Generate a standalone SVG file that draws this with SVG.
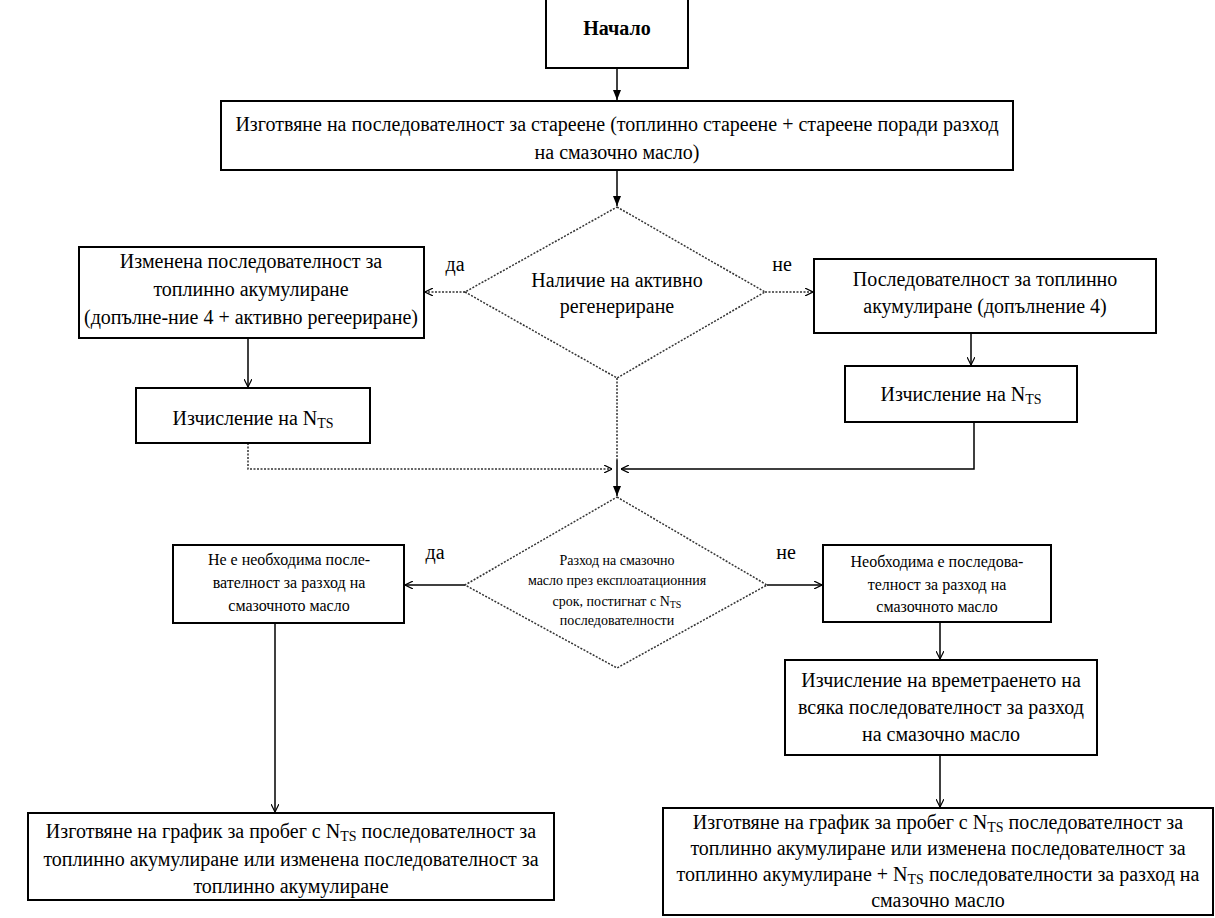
<svg xmlns="http://www.w3.org/2000/svg" width="1215" height="918" viewBox="0 0 1215 918">
<style>
.box{fill:#fff;stroke:#000;stroke-width:2}
.dia{fill:#fff;stroke:#333;stroke-width:1.5;stroke-dasharray:2 1.5}
.t{font-family:"Liberation Serif",serif;font-size:20px;fill:#000;text-anchor:middle}
.s{font-size:14px}
.b{font-weight:bold}
.c{fill:none;stroke:#000;stroke-width:1.5}
.d{fill:none;stroke:#333;stroke-width:1.5;stroke-dasharray:2 1.5}
.sub{font-size:14px}
</style>
<defs>
<marker id="a" viewBox="0 0 10 10" refX="10" refY="5" markerWidth="8" markerHeight="8" markerUnits="userSpaceOnUse" orient="auto"><path d="M0,0 L10,5 L0,10" fill="none" stroke="#000" stroke-width="1.5"/></marker>
<marker id="f" viewBox="0 0 10 10" refX="10" refY="5" markerWidth="10" markerHeight="10" markerUnits="userSpaceOnUse" orient="auto"><path d="M0,1 L10,5 L0,9 Z" fill="#000"/></marker>
</defs>
<rect width="1215" height="918" fill="#fff"/>
<g id="connectors">
<line class="c" x1="617" y1="68" x2="617" y2="100" marker-end="url(#f)"/>
<line class="c" x1="617" y1="170" x2="617" y2="206" marker-end="url(#f)"/>
<line class="d" x1="465" y1="292" x2="425" y2="292" marker-end="url(#a)"/>
<line class="d" x1="765" y1="292" x2="813" y2="292" marker-end="url(#a)"/>
<line class="c" x1="248" y1="338" x2="248" y2="387" marker-end="url(#a)"/>
<line class="c" x1="971" y1="333" x2="971" y2="365" marker-end="url(#a)"/>
<polyline class="d" points="248,443 248,469 612,469" marker-end="url(#a)"/>
<polyline class="c" points="974,422 974,469 621,469" marker-end="url(#a)"/>
<line class="d" x1="617" y1="378" x2="617" y2="460"/>
<line class="c" x1="617" y1="460" x2="617" y2="496" marker-end="url(#f)"/>
<line class="c" x1="465" y1="585" x2="405" y2="585" marker-end="url(#a)"/>
<line class="c" x1="767" y1="585" x2="822" y2="585" marker-end="url(#a)"/>
<line class="c" x1="940" y1="622" x2="940" y2="659" marker-end="url(#a)"/>
<line class="c" x1="940" y1="755" x2="940" y2="807" marker-end="url(#a)"/>
<line class="c" x1="275" y1="623" x2="275" y2="812" marker-end="url(#a)"/>
</g>
<g id="start">
<rect class="box" x="546" y="-2" width="142" height="70"/>
<text class="t b" x="617" y="35">Начало</text>
</g>
<g id="prep">
<rect class="box" x="221" y="101" width="792" height="69"/>
<text class="t" x="617" y="131">Изготвяне на последователност за стареене (топлинно стареене + стареене поради разход</text>
<text class="t" x="617" y="159">на смазочно масло)</text>
</g>
<g id="d1">
<polygon class="dia" points="617,207 765,292 617,378 465,292"/>
<text class="t" x="617" y="287">Наличие на активно</text>
<text class="t" x="617" y="313">регенериране</text>
</g>
<text class="t" x="455" y="271">да</text>
<text class="t" x="782" y="271">не</text>
<g id="modseq">
<rect class="box" x="79" y="247" width="345" height="91"/>
<text class="t" x="251" y="268">Изменена последователност за</text>
<text class="t" x="251" y="296">топлинно акумулиране</text>
<text class="t" x="251" y="324">(допълне-ние 4 + активно регеериране)</text>
</g>
<g id="seq">
<rect class="box" x="814" y="259" width="342" height="74"/>
<text class="t" x="985" y="286">Последователност за топлинно</text>
<text class="t" x="985" y="313">акумулиране (допълнение 4)</text>
</g>
<g id="nts1">
<rect class="box" x="136" y="388" width="234" height="55"/>
<text class="t" x="253" y="425">Изчисление на N<tspan class="sub" dy="3">TS</tspan></text>
</g>
<g id="nts2">
<rect class="box" x="845" y="366" width="232" height="56"/>
<text class="t" x="961" y="401">Изчисление на N<tspan class="sub" dy="3">TS</tspan></text>
</g>
<g id="d2">
<polygon class="dia" points="617,497 767,585 617,668 465,585"/>
<text class="t s" x="617" y="565">Разход на смазочно</text>
<text class="t s" x="617" y="585">масло през експлоатационния</text>
<text class="t s" x="617" y="606">срок, постигнат с N<tspan font-size="10" dy="2">TS</tspan></text>
<text class="t s" x="617" y="625">последователности</text>
</g>
<text class="t" x="435" y="559">да</text>
<text class="t" x="786" y="559">не</text>
<g id="noneed">
<rect class="box" x="173" y="545" width="231" height="78"/>
<text class="t s" x="289" y="565" style="font-size:16px">Не е необходима после-</text>
<text class="t s" x="289" y="588" style="font-size:16px">вателност за разход на</text>
<text class="t s" x="289" y="611" style="font-size:16px">смазочното масло</text>
</g>
<g id="need">
<rect class="box" x="823" y="545" width="228" height="77"/>
<text class="t s" x="937" y="567" style="font-size:16px">Необходима е последова-</text>
<text class="t s" x="937" y="590" style="font-size:16px">телност за разход на</text>
<text class="t s" x="937" y="612" style="font-size:16px">смазочното масло</text>
</g>
<g id="duration">
<rect class="box" x="785" y="660" width="312" height="95"/>
<text class="t" x="941" y="687">Изчисление на времетраенето на</text>
<text class="t" x="941" y="714">всяка последователност за разход</text>
<text class="t" x="941" y="741">на смазочно масло</text>
</g>
<g id="schedL">
<rect class="box" x="28" y="813" width="526" height="87"/>
<text class="t" x="291" y="838">Изготвяне на график за пробег с N<tspan class="sub" dy="3">TS</tspan><tspan dy="-3"> последователност за</tspan></text>
<text class="t" x="291" y="866">топлинно акумулиране или изменена последователност за</text>
<text class="t" x="291" y="893">топлинно акумулиране</text>
</g>
<g id="schedR">
<rect class="box" x="663" y="808" width="550" height="107"/>
<text class="t" x="938" y="829">Изготвяне на график за пробег с N<tspan class="sub" dy="3">TS</tspan><tspan dy="-3"> последователност за</tspan></text>
<text class="t" x="938" y="855">топлинно акумулиране или изменена последователност за</text>
<text class="t" x="938" y="881">топлинно акумулиране + N<tspan class="sub" dy="3">TS</tspan><tspan dy="-3"> последователности за разход на</tspan></text>
<text class="t" x="938" y="907">смазочно масло</text>
</g>
</svg>
